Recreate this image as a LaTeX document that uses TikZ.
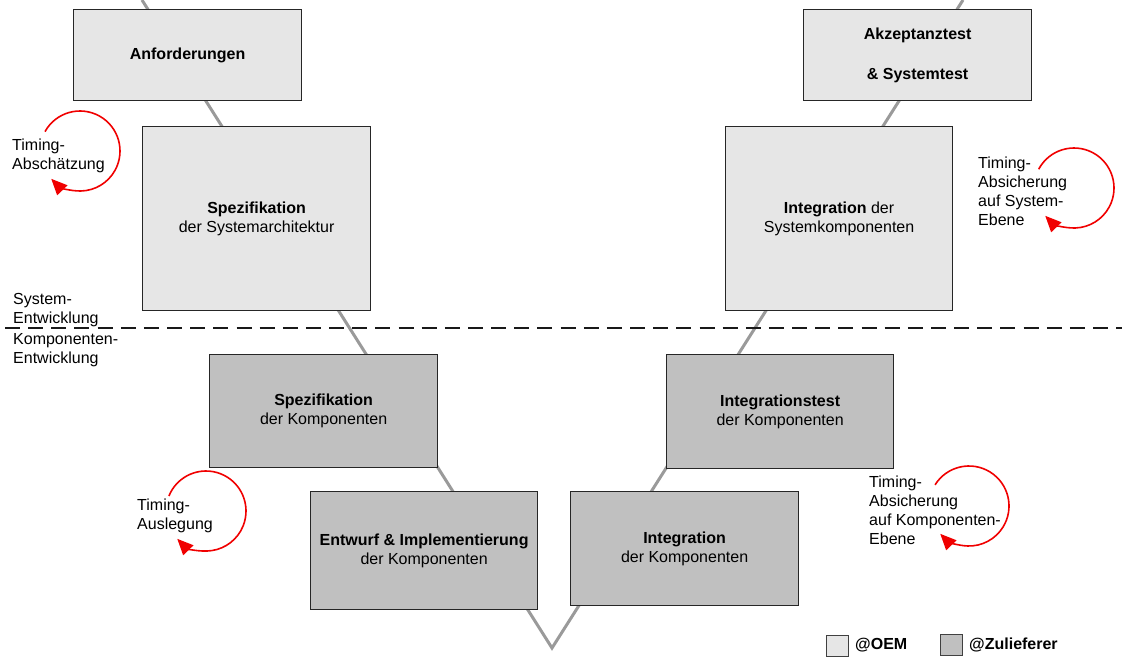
\documentclass[tikz,border=0pt]{standalone}
\usepackage{fontspec}
\setmainfont{Liberation Sans}
\usetikzlibrary{arrows.meta,calc}
\definecolor{oemfill}{HTML}{E6E6E6}
\definecolor{zulfill}{HTML}{C0C0C0}
\definecolor{vgray}{HTML}{9A9A9A}
\definecolor{loopred}{HTML}{F00000}
\begin{document}
\begin{tikzpicture}[x=1pt,y=-1pt,
  txt/.style={font=\fontsize{16}{19}\selectfont},
  phase/.style={txt, draw=black!85, line width=1.2pt, inner sep=0pt,
    anchor=north west, align=center},
  oem/.style={phase, fill=oemfill},
  zul/.style={phase, fill=zulfill},
  vline/.style={draw=vgray, line width=3pt},
  sep/.style={draw=black!90, line width=1.8pt, dash pattern=on 15pt off 8.15pt},
  note/.style={txt, anchor=north west, align=left, inner sep=0pt},
  loop/.style={draw=loopred, line width=1.6pt,
    -{Triangle[length=16pt,width=14pt]}},
  legendbox/.style={draw=black!75, line width=1.2pt, minimum width=22pt,
    minimum height=21pt, inner sep=0pt, anchor=north west},
  legendtxt/.style={txt, font=\fontsize{16}{19}\selectfont\bfseries,
    anchor=north west, inner sep=0pt}]
  \useasboundingbox (0,0) rectangle (1122,657);

  % ends of the V behind the phase boxes
  \coordinate (vleft) at (142,0);
  \coordinate (vbottom) at (552,648);
  \coordinate (vright) at (963,0);
  \draw[vline] (vleft) -- (vbottom) -- (vright);

  % separator between system and component development
  \coordinate (sepl) at (5,328);
  \coordinate (sepr) at (1122,328);
  \draw[sep] (sepl) -- (sepr);

  % left branch
  \node[oem, minimum width=228pt, minimum height=91pt] (anf) at (73,9)
    {\textbf{Anforderungen}};
  \node[oem, minimum width=228pt, minimum height=184pt] (spezsys) at (142,126)
    {\textbf{Spezifikation}\\der Systemarchitektur};
  \node[zul, minimum width=228pt, minimum height=113pt] (spezkomp) at (209,354)
    {\textbf{Spezifikation}\\der Komponenten};
  \node[zul, minimum width=227pt, minimum height=118pt] (entwurf) at (310,491)
    {\textbf{Entwurf \& Implementierung}\\der Komponenten};

  % right branch
  \node[zul, minimum width=228pt, minimum height=114pt] (integk) at (570,491)
    {\textbf{Integration}\\der Komponenten};
  \node[zul, minimum width=227pt, minimum height=114pt] (itest) at (666,354)
    {\textbf{Integrationstest}\\der Komponenten};
  \node[oem, minimum width=227pt, minimum height=184pt] (integsys) at (725,126)
    {\textbf{Integration} der\\Systemkomponenten};
  \node[oem, minimum width=228pt, minimum height=91pt] (akz) at (803,9)
    {\textbf{Akzeptanztest}\\[21pt]\textbf{\& Systemtest}};

  % level labels
  \node[note] (lsys) at (13,293) {System-\\Entwicklung};
  \node[note] (lkomp) at (13,333) {Komponenten-\\Entwicklung};

  % timing activities with their loops
  \node[note] (t1) at (12,139) {Timing-\\Abschätzung};
  \coordinate (c1) at (80,151);
  \draw[loop] ($(c1)+(151:40pt)$) arc[start angle=151, end angle=-136, radius=40pt];

  \node[note] (t2) at (137,499) {Timing-\\Auslegung};
  \coordinate (c2) at (206,511);
  \draw[loop] ($(c2)+(158:40pt)$) arc[start angle=158, end angle=-136, radius=40pt];

  \node[note] (t3) at (978,157) {Timing-\\Absicherung\\auf System-\\Ebene};
  \coordinate (c3) at (1074,188);
  \draw[loop] ($(c3)+(152:40pt)$) arc[start angle=152, end angle=-136, radius=40pt];

  \node[note] (t4) at (869,476) {Timing-\\Absicherung\\auf Komponenten-\\Ebene};
  \coordinate (c4) at (969,506);
  \draw[loop] ($(c4)+(148:40pt)$) arc[start angle=148, end angle=-136, radius=40pt];

  % legend
  \node[legendbox, fill=oemfill] (lgoem) at (826,635) {};
  \node[legendtxt] (lgoemtxt) at (855,638) {@OEM};
  \node[legendbox, fill=zulfill] (lgzul) at (940,634) {};
  \node[legendtxt] (lgzultxt) at (969,638) {@Zulieferer};
\end{tikzpicture}
\end{document}
